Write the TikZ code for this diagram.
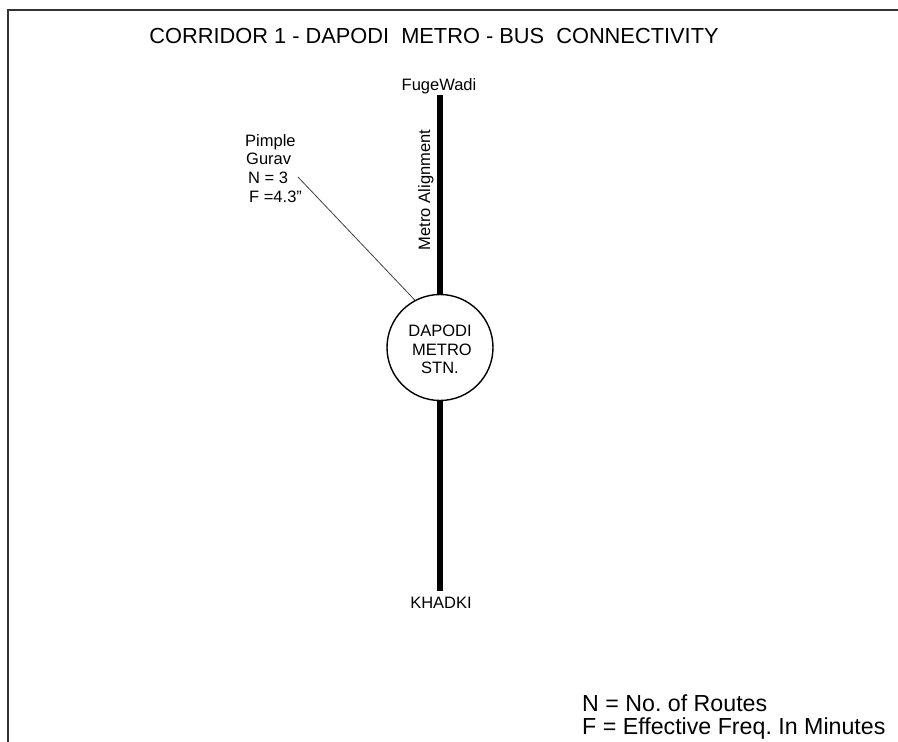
\documentclass[tikz,border=0pt]{standalone}
\usepackage{fontspec}
\setmainfont{Liberation Sans}
\frenchspacing
\tikzset{
  lbl/.style={inner sep=0pt, font=\fontsize{16.5}{18.5}\selectfont},
  ttl/.style={inner sep=0pt, font=\fontsize{21.8}{24}\selectfont},
  leg/.style={inner sep=0pt, anchor=base west, font=\fontsize{23.2}{24}\selectfont},
  rail/.style={line width=6pt, black},
  frame/.style={line width=1.6pt, black!80},
}
\begin{document}
\begin{tikzpicture}[x=1pt,y=-1pt]
\useasboundingbox (0,0) rectangle (898,742);
\fill[white] (0,0) rectangle (898,742);
% frame
\draw[frame] (8,742) -- (8,10) -- (898,10);
% title
\node[ttl, anchor=base] (title) at (434,43) {CORRIDOR 1 - DAPODI\ \ METRO - BUS\ \ CONNECTIVITY};
% station
\node[draw, circle, line width=1.4pt, minimum size=106pt, inner sep=0pt] (stn) at (440,347.5) {};
\node[lbl, anchor=base] (s1) at (440,336) {DAPODI};
\node[lbl, anchor=base] (s2) at (442,355.5) {METRO};
\node[lbl, anchor=base] (s3) at (440,373) {STN.};
% end stations
\node[lbl, anchor=base] (fug) at (439,90) {FugeWadi};
\node[lbl, anchor=base] (kha) at (441,608) {KHADKI};
\coordinate (ftop) at (440,95);
\coordinate (kbot) at (440,591);
\draw[rail] (ftop) -- (stn.north);
\draw[rail] (stn.south) -- (kbot);
\node[lbl, rotate=90, anchor=base] (ma) at (430,190) {Metro Alignment};
% Pimple Gurav
\node[lbl, anchor=base west] (p1) at (245,146) {Pimple};
\node[lbl, anchor=base west] (p2) at (246,164.5) {Gurav};
\node[lbl, anchor=base west] (p3) at (248,183) {N =\ 3};
\node[lbl, anchor=base west] (p4) at (249,202) {F =4.3"};
\coordinate (pg) at (298,177);
\draw[line width=0.8pt, black!75] (pg) -- (stn.118);
% legend
\node[leg] (l1) at (582,711) {N = No. of Routes};
\node[leg] (l2) at (582,734) {F = Effective Freq. In Minutes};
\end{tikzpicture}
\end{document}
